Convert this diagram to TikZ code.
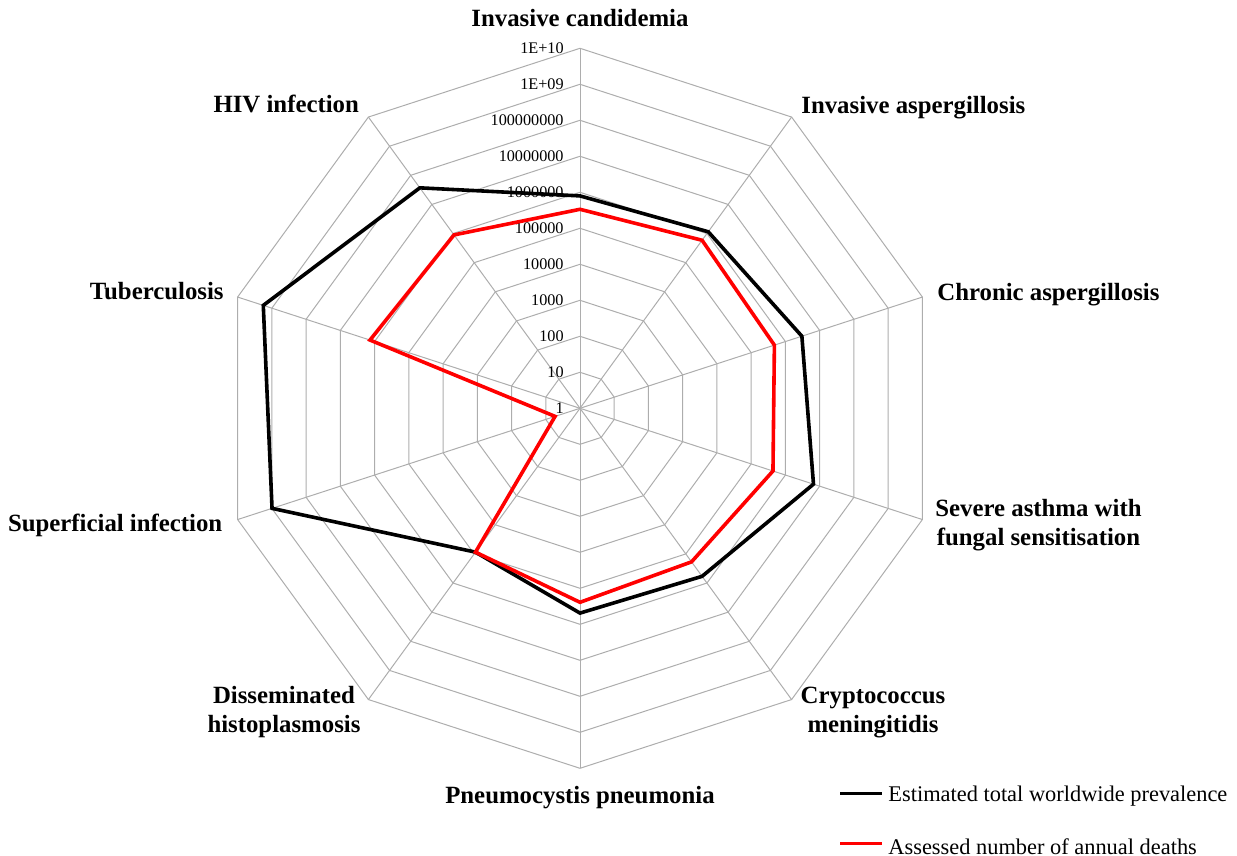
\documentclass[tikz,border=0pt]{standalone}
\usepackage{fontspec}
\setmainfont{Liberation Serif}
\usepackage{tikz}
\usetikzlibrary{positioning}
\usetikzlibrary{calc}

\begin{document}
\begin{tikzpicture}[x=0.5pt, y=0.5pt,
	webline/.style={draw=black!32, line width=0.5pt},
	axlabel/.style={font=\fontsize{12.4}{14.2}\selectfont\bfseries, inner sep=0pt, align=center},
	ticklabel/.style={font=\fontsize{8.1}{9}\selectfont, inner sep=0pt, anchor=east},
	legtext/.style={font=\fontsize{11.2}{13}\selectfont, inner sep=0pt, anchor=west},
	prevline/.style={draw=black, line width=1.8pt},
	deathline/.style={draw=red, line width=1.8pt}]
			
			\useasboundingbox (-580,-447.7) rectangle (657,408.3);
			
			%  web
			\foreach \k in {1,...,10}
				\draw[webline] (90:36*\k) \foreach \a in {54,18,...,-234} { -- (\a:36*\k) } -- cycle;
			\foreach \a in {90,54,...,-234}
				\draw[webline] (0,0) -- (\a:360);
			
			%  scale
			\foreach \k/\t in {0/1, 1/10, 2/100, 3/1000, 4/10000, 5/100000, 6/1000000, 7/10000000, 8/100000000, 9/1E+09, 10/1E+10}
				\node[ticklabel] (t\k) at (-16,36*\k) {\t};
			
			%  axis names
			\node[axlabel, anchor=base] (cand) at (0,381.8) {Invasive candidemia};
			\node[axlabel, anchor=base west] (asp) at (221,295) {Invasive aspergillosis};
			\node[axlabel, anchor=base west] (chron) at (357,107.6) {Chronic aspergillosis};
			\node[axlabel] (asthma) at (458.5,-116.8) {Severe asthma with\\fungal sensitisation};
			\node[axlabel] (crypto) at (293,-304.3) {Cryptococcus\\meningitidis};
			\node[axlabel, anchor=base] (pneumo) at (0,-394.7) {Pneumocystis pneumonia};
			\node[axlabel] (histo) at (-296,-303.9) {Disseminated\\histoplasmosis};
			\node[axlabel, anchor=base east] (superf) at (-357.3,-123.4) {Superficial infection};
			\node[axlabel, anchor=base east] (tb) at (-356,108.3) {Tuberculosis};
			\node[axlabel, anchor=base east] (hiv) at (-220.7,296) {HIV infection};
			
			%  prevalence
			\coordinate (b1) at (90:212.4);
			\coordinate (b2) at (54:218.2);
			\coordinate (b3) at (18:233.3);
			\coordinate (b4) at (-18:245.5);
			\coordinate (b5) at (-54:207.7);
			\coordinate (b6) at (-90:204.8);
			\coordinate (b7) at (-126:177.8);
			\coordinate (b8) at (-162:323.8);
			\coordinate (b9) at (-198:333);
			\coordinate (b10) at (-234:272.5);
			\draw[prevline] (b1) -- (b2) -- (b3) -- (b4) -- (b5) -- (b6) -- (b7) -- (b8) -- (b9) -- (b10) -- cycle;
			
			%  deaths
			\coordinate (r1) at (90:199);
			\coordinate (r2) at (54:207.7);
			\coordinate (r3) at (18:204.4);
			\coordinate (r4) at (-18:202.9);
			\coordinate (r5) at (-54:189.8);
			\coordinate (r6) at (-90:194);
			\coordinate (r7) at (-126:177.8);
			\coordinate (r8) at (-162:26.2);
			\coordinate (r9) at (-198:220.8);
			\coordinate (r10) at (-234:214.3);
			\draw[deathline] (r1) -- (r2) -- (r3) -- (r4) -- (r5) -- (r6) -- (r7) -- (r8) -- (r9) -- (r10) -- cycle;
			
			%  legend
			\coordinate (kp) at (260,-385);
			\node[legtext, inner xsep=3pt] (legprev) at (302,-388) {Estimated total worldwide prevalence};
			\draw[prevline] (kp) -- (kp -| legprev.west);
			\coordinate (kd) at (260,-435);
			\node[legtext, inner xsep=3pt] (legdeath) at (302,-438) {Assessed number of annual deaths};
			\draw[deathline] (kd) -- (kd -| legdeath.west);
		\end{tikzpicture}
\end{document}
